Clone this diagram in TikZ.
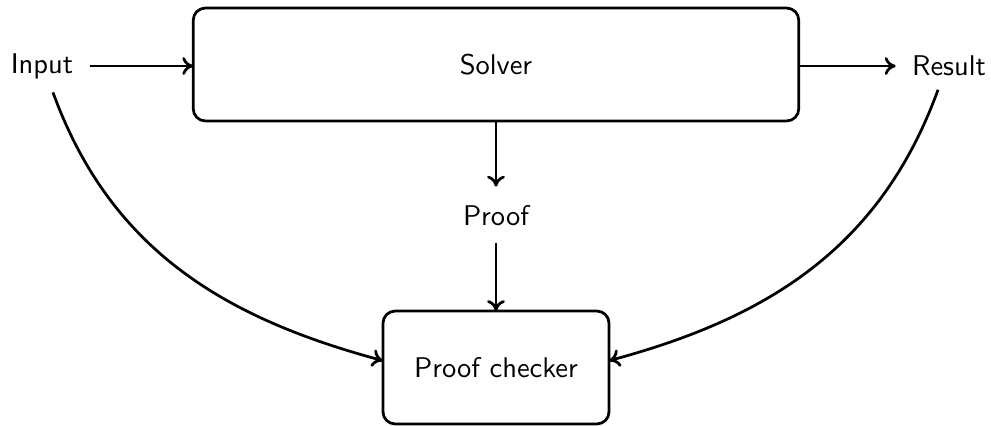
\documentclass[tikz,border=0pt]{standalone}
\usetikzlibrary{arrows.meta}
\renewcommand{\familydefault}{\sfdefault}
\begin{document}
\begin{tikzpicture}[x=0.365pt,y=-0.365pt,font=\fontsize{10.4pt}{12pt}\selectfont,
  boxnode/.style={draw,rounded corners=4.4pt,line width=1pt,inner sep=0pt,outer sep=0pt},
  lbl/.style={inner sep=2pt,outer sep=0pt},
  conn/.style={line width=1pt,-{To[length=4pt,width=6.5pt]}}]
\useasboundingbox (0,0) rectangle (991,425);
\node[boxnode,minimum width=221pt,minimum height=41.2pt] (solver) at (496,64.5) {Solver};
\node[boxnode,minimum width=82.5pt,minimum height=41.2pt] (checker) at (496,367.5) {Proof checker};
\node[lbl] (input) at (42,66) {Input};
\node[lbl] (result) at (949,66) {Result};
\node[lbl] (proof) at (496,216) {Proof};
\draw[conn] ([xshift=4pt]input.east) -- (solver.west |- input.east);
\draw[conn] (solver.east |- result.west) -- ([xshift=-4pt]result.west);
\draw[conn] (solver.south) -- ([yshift=5pt]proof.north);
\draw[conn] ([yshift=-4pt]proof.south) -- (checker.north);
\draw[conn] ([xshift=4pt,yshift=-3pt]input.south) to[out=-70,in=165] ([yshift=2.5pt]checker.west);
\draw[conn] ([xshift=-4pt,yshift=-3pt]result.south) to[out=-110,in=15] ([yshift=2.5pt]checker.east);
\end{tikzpicture}
\end{document}
